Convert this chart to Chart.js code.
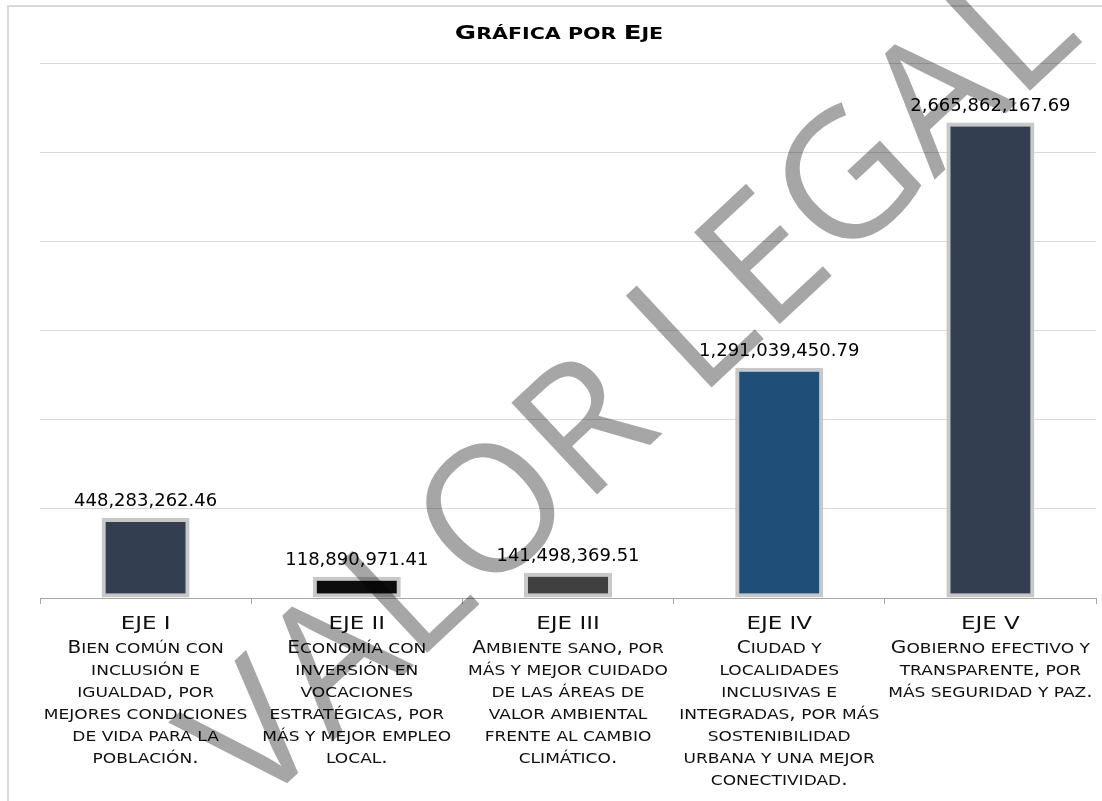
<!DOCTYPE html>
<html lang="es">
<head>
    <meta charset="UTF-8">
    <title>Gráfica por Eje</title>
    <script src="https://cdn.jsdelivr.net/npm/chart.js"></script>
    <style>
        body { margin: 0; background: #ffffff; }
        .chart-box { position: relative; width: 1102px; height: 801px; }
    </style>
</head>
<body>
    <div class="chart-box">
        <canvas id="ejeChart"></canvas>
    </div>

    <script>
        // Datos de la gráfica
        var ejes = ['EJE I', 'EJE II', 'EJE III', 'EJE IV', 'EJE V'];
        var descripciones = [
            ['Bien común con', 'inclusión e', 'igualdad, por', 'mejores condiciones', 'de vida para la', 'población.'],
            ['Economía con', 'inversión en', 'vocaciones', 'estratégicas, por', 'más y mejor empleo', 'local.'],
            ['Ambiente sano, por', 'más y mejor cuidado', 'de las áreas de', 'valor ambiental', 'frente al cambio', 'climático.'],
            ['Ciudad y', 'localidades', 'inclusivas e', 'integradas, por más', 'sostenibilidad', 'urbana y una mejor', 'conectividad.'],
            ['Gobierno efectivo y', 'transparente, por', 'más seguridad y paz.']
        ];
        var montos = [448283262.46, 118890971.41, 141498369.51, 1291039450.79, 2665862167.69];
        var colores = ['#333f50', '#0d0d0d', '#404040', '#1f4e79', '#333f50'];
        var ejeMax = 3000000000;
        var ejePaso = 500000000;

        var titulo = 'Gráfica por Eje';
        var marcaAgua = 'VALOR LEGAL';

        var FAMILY = '"DejaVu Sans", Verdana, sans-serif';

        // texto en versalitas: minúsculas se dibujan como mayúsculas pequeñas
        function drawCaps(ctx, text, cx, baseline, big, small, sx, weight) {
            var runs = [];
            for (var ch of text) {
                var low = ch === ' ' || ch !== ch.toUpperCase();
                var size = low ? small : big;
                if (runs.length && runs[runs.length - 1].size === size) {
                    runs[runs.length - 1].t += ch.toUpperCase();
                } else {
                    runs.push({ t: ch.toUpperCase(), size: size });
                }
            }
            var total = 0;
            runs.forEach(function (r) {
                ctx.font = weight + ' ' + r.size + 'px ' + FAMILY;
                r.w = ctx.measureText(r.t).width;
                total += r.w;
            });
            ctx.save();
            ctx.translate(cx, baseline);
            ctx.scale(sx, 1);
            ctx.textAlign = 'left';
            ctx.textBaseline = 'alphabetic';
            var x = -total / 2;
            runs.forEach(function (r) {
                ctx.font = weight + ' ' + r.size + 'px ' + FAMILY;
                ctx.fillText(r.t, x, 0);
                x += r.w;
            });
            ctx.restore();
        }

        var fmt = function (v) {
            return v.toLocaleString('en-US', { minimumFractionDigits: 2, maximumFractionDigits: 2 });
        };

        var extras = {
            id: 'extras',
            beforeDraw: function (chart) {
                var ctx = chart.ctx;
                ctx.save();
                ctx.strokeStyle = '#d9d9d9';
                ctx.lineWidth = 2;
                ctx.strokeRect(8, 6, 1300, 1000);
                ctx.restore();
            },
            afterDatasetsDraw: function (chart) {
                var ctx = chart.ctx;
                var meta = chart.getDatasetMeta(0);
                ctx.save();
                ctx.fillStyle = '#000000';
                ctx.font = '18px ' + FAMILY;
                ctx.textAlign = 'center';
                ctx.textBaseline = 'alphabetic';
                meta.data.forEach(function (bar, i) {
                    ctx.fillText(fmt(montos[i]), bar.x, bar.y - 12);
                });
                ctx.restore();
            },
            afterDraw: function (chart) {
                var ctx = chart.ctx;
                var xs = chart.scales.x;
                ctx.save();
                ctx.fillStyle = '#000000';
                drawCaps(ctx, titulo, 559, 39, 19.5, 15.5, 1.33, 'bold');

                ctx.fillStyle = '#111111';
                ejes.forEach(function (eje, i) {
                    var cx = xs.getPixelForValue(i);
                    drawCaps(ctx, eje, cx, 629, 17.3, 17.3, 1.33, 'normal');
                    descripciones[i].forEach(function (linea, k) {
                        drawCaps(ctx, linea, cx, 653 + k * 22, 17.3, 14.7, 1.16, 'normal');
                    });
                });

                // marca de agua
                ctx.translate(626, 380);
                ctx.rotate(-43 * Math.PI / 180);
                ctx.font = '400 176px "Open Sans", "Liberation Sans", sans-serif';
                var w = ctx.measureText(marcaAgua).width;
                ctx.scale(1137 / w, 1);
                ctx.fillStyle = 'rgba(0, 0, 0, 0.35)';
                ctx.textAlign = 'center';
                ctx.textBaseline = 'alphabetic';
                ctx.fillText(marcaAgua, 0, 64);
                ctx.restore();
            }
        };

        var ctx = document.getElementById('ejeChart').getContext('2d');
        new Chart(ctx, {
            type: 'bar',
            data: {
                labels: ejes,
                datasets: [{
                    data: montos,
                    backgroundColor: colores,
                    borderColor: '#c8c8c8',
                    borderWidth: 4,
                    borderSkipped: false,
                    barPercentage: 0.4167,
                    categoryPercentage: 1
                }]
            },
            options: {
                responsive: true,
                maintainAspectRatio: false,
                animation: false,
                layout: { padding: { left: 40, right: 6, top: 63, bottom: 197 } },
                plugins: {
                    legend: { display: false },
                    title: { display: false },
                    tooltip: { enabled: false }
                },
                scales: {
                    x: {
                        ticks: { display: false },
                        grid: { drawOnChartArea: false, tickLength: 6, color: '#a6a6a6', offset: true },
                        border: { display: true, color: '#a6a6a6', width: 1 }
                    },
                    y: {
                        min: 0,
                        max: ejeMax,
                        ticks: { display: false, stepSize: ejePaso },
                        grid: { color: '#d9d9d9', drawTicks: false },
                        border: { display: false }
                    }
                }
            },
            plugins: [extras]
        });
    </script>
</body>
</html>
